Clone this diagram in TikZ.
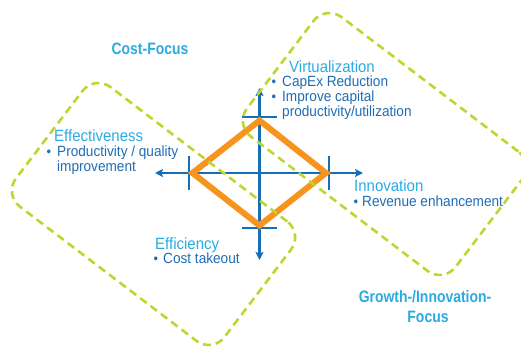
\documentclass[tikz,border=0pt]{standalone}
\usepackage{fontspec}
\setmainfont{Liberation Sans}
\newfontfamily\bodyfont[FakeStretch=0.92]{Liberation Sans}
\newfontfamily\titlefont[FakeStretch=0.845]{Liberation Sans}
\usetikzlibrary{arrows.meta}
\definecolor{zonegreen}{RGB}{190,214,48}
\definecolor{axisblue}{RGB}{22,110,184}
\definecolor{headblue}{RGB}{41,171,226}
\definecolor{textblue}{RGB}{30,108,180}
\definecolor{diamondorange}{RGB}{247,148,30}

\begin{document}
\begin{tikzpicture}[x=1pt,y=-1pt,
  zone/.style={draw=zonegreen, line width=2.6pt, dash pattern=on 8pt off 5pt,
    rounded corners=20pt, rotate=-37.25, minimum width=262pt,
    minimum height=150pt, inner sep=0pt},
  axis/.style={draw=axisblue, line width=2.5pt,
    {Stealth[length=8pt,width=8pt,inset=1.5pt]}-{Stealth[length=8pt,width=8pt,inset=1.5pt]}},
  tickmark/.style={draw=axisblue, line width=2.5pt},
  heading/.style={anchor=base west, inner sep=0pt, text=headblue,
    font=\bodyfont\fontsize{16.3}{16}\selectfont},
  item/.style={anchor=base west, inner sep=0pt, text=textblue,
    font=\bodyfont\fontsize{14.8}{15}\selectfont},
  bullet/.style={anchor=base west, inner sep=0pt, text=textblue,
    font=\bodyfont\fontsize{14}{15}\selectfont},
  focus/.style={anchor=base, inner sep=0pt, text=headblue,
    font=\titlefont\bfseries\fontsize{16.5}{20}\selectfont},
]
\useasboundingbox (0,0) rectangle (521,347);

% axis end points
\coordinate (axL) at (155,173);
\coordinate (axR) at (363,173);
\coordinate (axT) at (259.5,88);
\coordinate (axB) at (259.5,260);

% tick marks
\coordinate (tkT1) at (242,117);   \coordinate (tkT2) at (277,117);
\coordinate (tkB1) at (242,228);   \coordinate (tkB2) at (277,228);
\coordinate (tkL1) at (189,156.5); \coordinate (tkL2) at (189,190.5);
\coordinate (tkR1) at (329,156.5); \coordinate (tkR2) at (329,190.5);

% diamond corners
\coordinate (dT) at (259.5,120.5);
\coordinate (dR) at (326,173);
\coordinate (dB) at (259.5,225.5);
\coordinate (dL) at (192.5,173);

\draw[axis] (axL) -- (axR);
\draw[axis] (axB) -- (axT);
\draw[tickmark] (tkT1) -- (tkT2);
\draw[tickmark] (tkB1) -- (tkB2);
\draw[tickmark] (tkL1) -- (tkL2);
\draw[tickmark] (tkR1) -- (tkR2);

\draw[diamondorange, line width=6pt, line join=miter]
  (dT) -- (dR) -- (dB) -- (dL) -- cycle;

% the two focus zones
\node[zone] (costzone) at (153.5,214) {};
\node[zone] (growthzone) at (384.5,144) {};

% zone titles
\node[focus] (costtitle) at (150,55) {Cost-Focus};
\node[focus] (growthtitle1) at (425,302) {Growth-/Innovation-};
\node[focus] (growthtitle2) at (428,322) {Focus};

% Effectiveness
\node[heading] (effhead) at (54,142) {Effectiveness};
\node[bullet] (effdot) at (46.5,157) {•};
\node[item] (eff1) at (57,157) {Productivity / quality};
\node[item] (eff2) at (57,171.5) {improvement};

% Virtualization
\node[heading] (virthead) at (289,73) {Virtualization};
\node[bullet] (virtdot1) at (271.5,87) {•};
\node[item] (virt1) at (282,87) {CapEx Reduction};
\node[bullet] (virtdot2) at (271.5,102) {•};
\node[item] (virt2) at (282,102) {Improve capital};
\node[item] (virt3) at (282,116.5) {productivity/utilization};

% Innovation
\node[heading] (innohead) at (354,192) {Innovation};
\node[bullet] (innodot) at (353.5,206) {•};
\node[item] (inno1) at (362,206) {Revenue enhancement};

% Efficiency
\node[heading] (effchead) at (155,249) {Efficiency};
\node[bullet] (effcdot) at (153.5,263) {•};
\node[item] (effc1) at (163,263) {Cost takeout};
\end{tikzpicture}
\end{document}
